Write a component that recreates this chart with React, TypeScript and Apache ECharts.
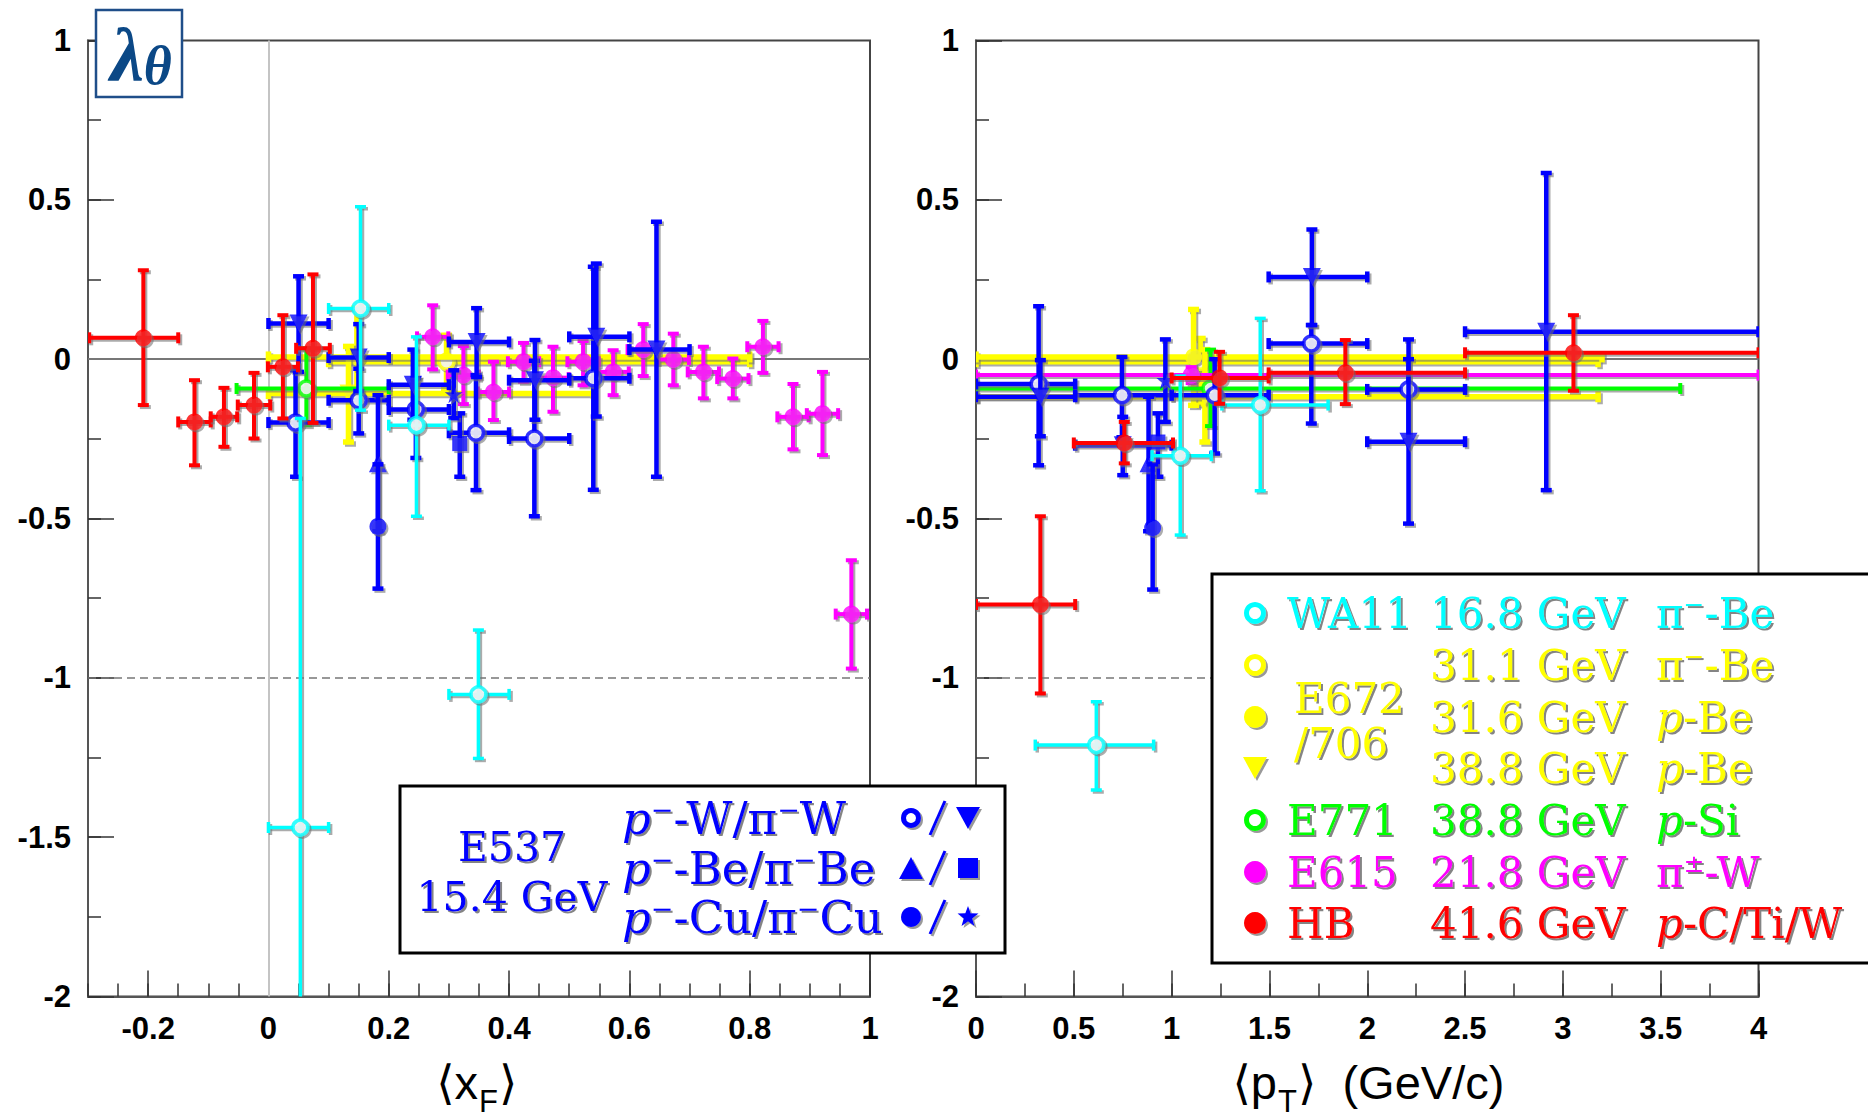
import React, { useEffect, useRef } from "react";
import * as echarts from "echarts";

// ---------- data: each row = [x, y, xLow, xHigh, yLow, yHigh] ----------
// left panel: lambda_theta vs <xF>
const HB_XF = [
  [-0.208, 0.067, -0.298, -0.15, -0.144, 0.279],
  [-0.123, -0.197, -0.15, -0.096, -0.333, -0.066],
  [-0.074, -0.181, -0.096, -0.052, -0.275, -0.09],
  [-0.024, -0.144, -0.051, 0.003, -0.249, -0.043],
  [0.024, -0.024, -0.001, 0.049, -0.186, 0.138],
  [0.074, 0.034, 0.046, 0.102, -0.2, 0.266],
];
const E615_XF = [
  [0.273, 0.07, 0.247, 0.299, -0.032, 0.169],
  [0.324, -0.05, 0.298, 0.35, -0.141, 0.041],
  [0.374, -0.103, 0.348, 0.4, -0.191, -0.008],
  [0.424, -0.008, 0.398, 0.45, -0.071, 0.051],
  [0.473, -0.058, 0.447, 0.499, -0.165, 0.039],
  [0.523, -0.008, 0.497, 0.549, -0.082, 0.057],
  [0.573, -0.04, 0.547, 0.599, -0.113, 0.028],
  [0.623, 0.03, 0.597, 0.649, -0.053, 0.11],
  [0.673, -0.001, 0.647, 0.699, -0.082, 0.08],
  [0.723, -0.04, 0.697, 0.749, -0.123, 0.039],
  [0.772, -0.061, 0.746, 0.798, -0.123, 0.002],
  [0.822, 0.039, 0.796, 0.848, -0.043, 0.12],
  [0.872, -0.181, 0.846, 0.898, -0.283, -0.078],
  [0.921, -0.171, 0.895, 0.947, -0.301, -0.04],
  [0.969, -0.8, 0.943, 0.995, -0.971, -0.631],
];
const E537_W_PBAR_XF = [
  [0.045, -0.199, 0.0, 0.1, -0.369, -0.035],
  [0.15, -0.129, 0.1, 0.2, -0.233, -0.03],
  [0.245, -0.158, 0.2, 0.3, -0.31, -0.06],
  [0.345, -0.231, 0.3, 0.4, -0.411, -0.05],
  [0.442, -0.249, 0.4, 0.5, -0.493, -0.005],
  [0.54, -0.06, 0.5, 0.6, -0.41, 0.29],
];
const E537_W_PI_XF = [
  [0.05, 0.112, 0.0, 0.1, -0.04, 0.26],
  [0.15, 0.005, 0.1, 0.2, -0.1, 0.11],
  [0.24, -0.08, 0.2, 0.3, -0.19, 0.03],
  [0.346, 0.054, 0.3, 0.4, -0.056, 0.16],
  [0.443, -0.066, 0.4, 0.5, -0.19, 0.06],
  [0.545, 0.07, 0.5, 0.6, -0.18, 0.3],
  [0.645, 0.03, 0.6, 0.7, -0.369, 0.431],
];
const E537_BE_PBAR_XF = [[0.182, -0.327, 0.182, 0.182, -0.54, -0.113]];
const E537_BE_PI_XF = [[0.318, -0.265, 0.318, 0.318, -0.369, -0.17]];
const E537_CU_PBAR_XF = [[0.182, -0.525, 0.182, 0.182, -0.72, -0.33]];
const E537_CU_PI_XF = [[0.308, -0.11, 0.308, 0.308, -0.185, -0.035]];
const WA11_XF = [
  [0.053, -1.47, 0.0, 0.1, -2.76, -0.186],
  [0.153, 0.159, 0.1, 0.2, -0.16, 0.478],
  [0.246, -0.207, 0.2, 0.3, -0.493, 0.07],
  [0.349, -1.052, 0.3, 0.4, -1.253, -0.85],
];
const E672_311_XF = [[0.296, -0.008, 0.1, 0.8, -0.092, 0.075]];
const E672_316_XF = [[0.147, 0.007, 0.0, 0.8, -0.143, 0.16]];
const E672_388_XF = [[0.133, -0.108, 0.0, 0.54, -0.26, 0.04]];
const E771_XF = [[0.063, -0.092, -0.053, 0.2, -0.207, 0.034]];

// right panel: lambda_theta vs <pT>
const HB_PT = [
  [0.329, -0.77, 0.0, 0.507, -1.049, -0.493],
  [0.758, -0.263, 0.5, 1.007, -0.327, -0.197],
  [1.245, -0.059, 1.0, 1.496, -0.14, 0.023],
  [1.888, -0.043, 1.496, 2.5, -0.141, 0.06],
  [3.054, 0.02, 2.5, 4.0, -0.099, 0.138],
];
const E615_PT = [[1.1, -0.05, 0.0, 4.0, -0.075, -0.025]];
const E771_PT = [[1.199, -0.092, 0.0, 3.6, -0.21, 0.03]];
const E672_311_PT = [[1.146, -0.008, 0.0, 3.18, -0.14, 0.065]];
const E672_316_PT = [[1.112, 0.007, 0.0, 3.2, -0.145, 0.156]];
const E672_388_PT = [[1.17, -0.118, 0.0, 3.18, -0.26, 0.03]];
const WA11_PT = [
  [0.615, -1.211, 0.303, 0.908, -1.352, -1.075],
  [1.044, -0.303, 0.9, 1.203, -0.552, -0.053],
  [1.453, -0.144, 1.257, 1.8, -0.413, 0.128],
];
const E537_W_PBAR_PT = [
  [0.32, -0.078, 0.0, 0.507, -0.333, 0.166],
  [0.746, -0.113, 0.507, 1.0, -0.245, 0.007],
  [1.22, -0.113, 1.0, 1.496, -0.296, 0.0],
  [1.714, 0.049, 1.496, 2.0, -0.202, 0.107],
  [2.211, -0.095, 2.0, 2.5, -0.255, 0.062],
];
const E537_W_PI_PT = [
  [0.329, -0.118, 0.0, 0.507, -0.242, -0.003],
  [0.75, -0.27, 0.507, 1.0, -0.364, -0.181],
  [1.717, 0.258, 1.496, 2.0, 0.107, 0.407],
  [2.211, -0.259, 2.0, 2.5, -0.516, 0.0],
  [2.915, 0.086, 2.5, 4.0, -0.411, 0.584],
];
const E537_BE_PBAR_PT = [[0.882, -0.327, 0.882, 0.882, -0.54, -0.118]];
const E537_BE_PI_PT = [[0.93, -0.26, 0.93, 0.93, -0.369, -0.17]];
const E537_CU_PBAR_PT = [[0.903, -0.529, 0.903, 0.903, -0.723, -0.33]];
const E537_CU_PI_PT = [[0.968, -0.066, 0.968, 0.968, -0.197, 0.062]];

// ---------- ticks ----------
const XF_MAJOR = [-0.2, 0, 0.2, 0.4, 0.6, 0.8, 1];
const XF_RANGE = [-0.3, 1];
const PT_RANGE = [0, 4];
const Y_RANGE = [-2, 1];

// ---------- legend texts ----------
const LEG_NAMES = ["WA11", "", "", "", "E771", "E615", "HB"];
const LEG_ENERGY = ["16.8 GeV", "31.1 GeV", "31.6 GeV", "38.8 GeV", "38.8 GeV", "21.8 GeV", "41.6 GeV"];
const LEG_REACTION = [
  "{n|π}{u|−}{n|-Be}",
  "{n|π}{u|−}{n|-Be}",
  "{i|p}{n|-Be}",
  "{i|p}{n|-Be}",
  "{i|p}{n|-Si}",
  "{n|π}{u|±}{n|-W}",
  "{i|p}{n|-C/Ti/W}",
];
const E537_LINES = [
  "{i|p}{u|−}{n|-W/π}{u|−}{n|W}",
  "{i|p}{u|−}{n|-Be/π}{u|−}{n|Be}",
  "{i|p}{u|−}{n|-Cu/π}{u|−}{n|Cu}",
];

// ---------- styles ----------
const BLUE = "#0000ff";
const CYAN = "#00ffff";
const YELLOW = "#ffff00";
const GREEN = "#00ff00";
const MAGENTA = "#ff00ff";
const RED = "#ff0000";
const SHADOW_FILL = "rgba(115,115,115,0.6)";
const SH = { shadowColor: "rgba(110,110,110,0.7)", shadowOffsetX: 2, shadowOffsetY: 2, shadowBlur: 0.5 };
const TSH = { textShadowColor: "rgba(110,110,110,0.85)", textShadowOffsetX: 2, textShadowOffsetY: 2, textShadowBlur: 0.6 };
const SERIF = "'DejaVu Serif', 'Liberation Serif', serif";
const SANS = "'Liberation Sans', 'DejaVu Sans', Arial, sans-serif";
const STAR = "path://M50,0 L61,35 L98,35 L68,57 L79,91 L50,70 L21,91 L32,57 L2,35 L39,35 Z";

let zc = 5;

function bars(data: number[][], color: string, lw: number, xi: number, yi: number) {
  return {
    type: "custom",
    xAxisIndex: xi,
    yAxisIndex: yi,
    clip: true,
    silent: true,
    z: zc++,
    data,
    encode: { x: 0, y: 1 },
    renderItem: (_p: any, api: any) => {
      const x = api.value(0), y = api.value(1);
      const xl = api.value(2), xh = api.value(3), yl = api.value(4), yh = api.value(5);
      const c = api.coord([x, y]);
      const L = api.coord([xl, y]);
      const R = api.coord([xh, y]);
      const B = api.coord([x, yl]);
      const T = api.coord([x, yh]);
      const cap = 5.5;
      const shadows: any[] = [];
      const mains: any[] = [];
      const box = (x0: number, y0: number, w: number, h: number) => {
        shadows.push({ type: "rect", shape: { x: x0 + 2, y: y0 + 2, width: w, height: h }, style: { fill: SHADOW_FILL } });
        mains.push({ type: "rect", shape: { x: x0, y: y0, width: w, height: h }, style: { fill: color } });
      };
      const hseg = (xa: number, xb: number, yy: number) => box(Math.min(xa, xb), yy - lw / 2, Math.abs(xb - xa), lw);
      const vseg = (xx: number, ya: number, yb: number) => box(xx - lw / 2, Math.min(ya, yb), lw, Math.abs(yb - ya));
      if (xh > xl) {
        hseg(L[0], R[0], c[1]);
        vseg(L[0], c[1] - cap, c[1] + cap);
        vseg(R[0], c[1] - cap, c[1] + cap);
      }
      if (yh > yl) {
        vseg(c[0], B[1], T[1]);
        hseg(c[0] - cap, c[0] + cap, B[1]);
        hseg(c[0] - cap, c[0] + cap, T[1]);
      }
      return { type: "group", children: [...shadows, ...mains] };
    },
  };
}

function marks(data: number[][], color: string, kind: string, xi: number, yi: number) {
  let symbol = "circle", size = 17, rotate = 0;
  let itemStyle: any = { color, ...SH };
  if (kind === "open") {
    size = 15;
    itemStyle = { color: "#ffffff", borderColor: color, borderWidth: 3.5, ...SH };
  } else if (kind === "down") {
    symbol = "triangle"; size = 18; rotate = 180;
  } else if (kind === "up") {
    symbol = "triangle"; size = 18;
  } else if (kind === "square") {
    symbol = "rect"; size = 15;
  } else if (kind === "star") {
    symbol = STAR; size = 18;
  }
  return {
    type: "scatter",
    xAxisIndex: xi,
    yAxisIndex: yi,
    silent: true,
    z: zc++,
    symbol,
    symbolSize: size,
    symbolRotate: rotate,
    itemStyle,
    data: data.map((r) => [r[0], r[1]]),
  };
}

function group(data: number[][], color: string, lw: number, kind: string, xi: number, yi: number) {
  return [bars(data, color, lw, xi, yi), marks(data, color, kind, xi, yi)];
}

function panelSeries(xi: number, yi: number, d: any) {
  return [
    ...group(d.e672a, YELLOW, 5.5, "open", xi, yi),
    ...group(d.e672b, YELLOW, 5.5, "filled", xi, yi),
    ...group(d.e672c, YELLOW, 5.5, "down", xi, yi),
    ...group(d.e771, GREEN, 4, "open", xi, yi),
    ...group(d.e615, MAGENTA, 4, "filled", xi, yi),
    ...group(d.wp, BLUE, 4.5, "open", xi, yi),
    ...group(d.wpi, BLUE, 4.5, "down", xi, yi),
    ...group(d.bep, BLUE, 4.5, "up", xi, yi),
    ...group(d.bepi, BLUE, 4.5, "square", xi, yi),
    ...group(d.cup, BLUE, 4.5, "filled", xi, yi),
    ...group(d.cupi, BLUE, 4.5, "star", xi, yi),
    ...group(d.wa11, CYAN, 3.5, "open", xi, yi),
    ...group(d.hb, RED, 4, "filled", xi, yi),
  ];
}

const LABEL = { color: "#000", fontFamily: SANS, fontWeight: "bold", fontSize: 31 };
const TICKSTYLE = { color: "#333", width: 1.5 };

function majorX(gi: number, range: number[], extra: any) {
  return {
    type: "value", gridIndex: gi, min: range[0], max: range[1], position: "bottom",
    axisLine: { show: true, onZero: false, lineStyle: { color: "#555", width: 2 } },
    axisTick: { show: true, inside: true, length: 26, lineStyle: TICKSTYLE, ...(extra.tick || {}) },
    axisLabel: { show: true, margin: 16, ...LABEL, ...(extra.label || {}) },
    splitLine: { show: false },
    ...(extra.axis || {}),
  };
}
function minorX(gi: number, range: number[], interval: number) {
  return {
    type: "value", gridIndex: gi, min: range[0], max: range[1], interval, position: "bottom",
    axisLine: { show: false, onZero: false },
    axisTick: { show: true, inside: true, length: 13, lineStyle: TICKSTYLE },
    axisLabel: { show: false },
    splitLine: { show: false },
  };
}
function majorY(gi: number) {
  return {
    type: "value", gridIndex: gi, min: Y_RANGE[0], max: Y_RANGE[1], interval: 0.5, position: "left",
    axisLine: { show: true, onZero: false, lineStyle: { color: "#555", width: 2 } },
    axisTick: { show: true, inside: true, length: 26, lineStyle: TICKSTYLE },
    axisLabel: { show: true, margin: 17, ...LABEL },
    splitLine: { show: false },
  };
}
function minorY(gi: number) {
  return {
    type: "value", gridIndex: gi, min: Y_RANGE[0], max: Y_RANGE[1], interval: 0.25, position: "left",
    axisLine: { show: false, onZero: false },
    axisTick: { show: true, inside: true, length: 13, lineStyle: TICKSTYLE },
    axisLabel: { show: false },
    splitLine: { show: false },
  };
}

function refLines(xi: number, yi: number, withX0: boolean) {
  const data: any[] = [
    { yAxis: 0, lineStyle: { color: "#777", width: 2, type: "solid" } },
    { yAxis: -1, lineStyle: { color: "#777", width: 1.5, type: [8, 5] } },
  ];
  if (withX0) data.push({ xAxis: 0, lineStyle: { color: "#c4c4c4", width: 2, type: "solid" } });
  return {
    type: "line", xAxisIndex: xi, yAxisIndex: yi, data: [], z: 1, silent: true,
    markLine: { silent: true, symbol: ["none", "none"], label: { show: false }, data },
  };
}

function rich(color: string, size: number) {
  const base = { fill: color, fontSize: size, fontFamily: SERIF, lineHeight: size, ...TSH };
  const us = Math.round(size * 0.6);
  return {
    n: { ...base },
    i: { ...base, fontStyle: "italic" },
    u: { ...base, fontSize: us, lineHeight: us, verticalAlign: "top" },
  };
}

function txt(x: number, y: number, text: string, color: string, size: number, align = "left") {
  return {
    type: "text", x, y, z: 101, silent: true,
    style: {
      text, fill: color, fontSize: size, fontFamily: SERIF, lineHeight: size, ...TSH,
      align, verticalAlign: "middle", textAlign: align, textVerticalAlign: "middle",
      rich: rich(color, size),
    },
  };
}

function plain(x: number, y: number, text: string, size: number, align: string) {
  return {
    type: "text", x, y, z: 101, silent: true,
    style: {
      text, fill: "#000", fontSize: size, fontFamily: SANS, lineHeight: size,
      align, verticalAlign: "middle", textAlign: align, textVerticalAlign: "middle",
    },
  };
}

function legMarker(kind: string, cx: number, cy: number, color: string, r = 11) {
  if (kind === "open")
    return { type: "circle", z: 101, silent: true, shape: { cx, cy, r: r - 2.5 }, style: { fill: "#fff", stroke: color, lineWidth: 5, ...SH } };
  if (kind === "filled")
    return { type: "circle", z: 101, silent: true, shape: { cx, cy, r }, style: { fill: color, ...SH } };
  if (kind === "down")
    return { type: "polygon", z: 101, silent: true, shape: { points: [[cx - 12, cy - 11], [cx + 12, cy - 11], [cx, cy + 11]] }, style: { fill: color, ...SH } };
  if (kind === "up")
    return { type: "polygon", z: 101, silent: true, shape: { points: [[cx - 12, cy + 11], [cx + 12, cy + 11], [cx, cy - 11]] }, style: { fill: color, ...SH } };
  if (kind === "square")
    return { type: "rect", z: 101, silent: true, shape: { x: cx - 10, y: cy - 10, width: 20, height: 20 }, style: { fill: color, ...SH } };
  const pts: number[][] = [];
  for (let k = 0; k < 10; k++) {
    const a = -Math.PI / 2 + (k * Math.PI) / 5;
    const rr = k % 2 === 0 ? 11 : 4.5;
    pts.push([cx + rr * Math.cos(a), cy + rr * Math.sin(a)]);
  }
  return { type: "polygon", z: 101, silent: true, shape: { points: pts }, style: { fill: color, ...SH } };
}

function buildOption() {
  zc = 5;
  const left = panelSeries(0, 0, {
    e672a: E672_311_XF, e672b: E672_316_XF, e672c: E672_388_XF, e771: E771_XF, e615: E615_XF,
    wp: E537_W_PBAR_XF, wpi: E537_W_PI_XF, bep: E537_BE_PBAR_XF, bepi: E537_BE_PI_XF,
    cup: E537_CU_PBAR_XF, cupi: E537_CU_PI_XF, wa11: WA11_XF, hb: HB_XF,
  });
  const right = panelSeries(2, 2, {
    e672a: E672_311_PT, e672b: E672_316_PT, e672c: E672_388_PT, e771: E771_PT, e615: E615_PT,
    wp: E537_W_PBAR_PT, wpi: E537_W_PI_PT, bep: E537_BE_PBAR_PT, bepi: E537_BE_PI_PT,
    cup: E537_CU_PBAR_PT, cupi: E537_CU_PI_PT, wa11: WA11_PT, hb: HB_PT,
  });

  const legColors = [CYAN, YELLOW, YELLOW, YELLOW, GREEN, MAGENTA, RED];
  const legKinds = ["open", "open", "filled", "down", "open", "filled", "filled"];
  const rowY = [613, 665, 717, 768, 820, 872, 923];
  const graphics: any[] = [];

  // lambda_theta label
  graphics.push({ type: "rect", z: 100, silent: true, shape: { x: 96, y: 10, width: 86, height: 87 }, style: { fill: "#fff", stroke: "#1f4e89", lineWidth: 2.5 } });
  graphics.push({
    type: "text", z: 101, silent: true, x: 141, y: 55,
    style: {
      text: "{l|λ}{t|θ}", align: "center", verticalAlign: "middle", textAlign: "center", textVerticalAlign: "middle",
      rich: {
        l: { fill: "#0b4886", fontSize: 76, fontFamily: "'Liberation Serif', serif", fontWeight: "bold", fontStyle: "italic", lineHeight: 76, verticalAlign: "top" },
        t: { fill: "#0b4886", fontSize: 54, fontFamily: "'Liberation Serif', serif", fontWeight: "bold", fontStyle: "italic", lineHeight: 50, verticalAlign: "bottom" },
      },
    },
  });

  // E537 legend box
  graphics.push({ type: "rect", z: 100, silent: true, shape: { x: 400, y: 786, width: 605, height: 167 }, style: { fill: "#fff", stroke: "#000", lineWidth: 3 } });
  graphics.push(txt(512, 847, "E537", BLUE, 41, "center"));
  graphics.push(txt(512, 897, "15.4 GeV", BLUE, 41, "center"));
  const e537Y = [818, 868, 917];
  E537_LINES.forEach((s, k) => graphics.push(txt(622, e537Y[k], s, BLUE, 45, "left")));
  const e537Marks = [["open", "down"], ["up", "square"], ["filled", "star"]];
  e537Marks.forEach((pair, k) => {
    const yy = e537Y[k];
    graphics.push(legMarker(pair[0], 911, yy, BLUE, 10));
    graphics.push({
      type: "line", z: 101, silent: true,
      shape: { x1: 930, y1: yy + 17, x2: 945, y2: yy - 17 },
      style: { stroke: BLUE, lineWidth: 3, ...SH },
    });
    graphics.push(legMarker(pair[1], 968, yy, BLUE, 10));
  });

  // right legend box
  graphics.push({ type: "rect", z: 100, silent: true, shape: { x: 1212, y: 574, width: 670, height: 389 }, style: { fill: "#fff", stroke: "#000", lineWidth: 3 } });
  rowY.forEach((y, k) => {
    graphics.push(legMarker(legKinds[k], 1255, y, legColors[k], 11));
    if (LEG_NAMES[k]) graphics.push(txt(1287, y, LEG_NAMES[k], legColors[k], 42, "left"));
    graphics.push(txt(1430, y, LEG_ENERGY[k], legColors[k], 42, "left"));
    graphics.push(txt(1656, y, LEG_REACTION[k], legColors[k], 42, "left"));
  });
  graphics.push(txt(1294, 698, "E672", YELLOW, 42, "left"));
  graphics.push(txt(1294, 743, "/706", YELLOW, 42, "left"));

  // axis titles: main part, lowered subscript, closing bracket
  graphics.push(plain(478, 1082, "⟨x", 47, "right"));
  graphics.push(plain(479, 1101, "F", 31, "left"));
  graphics.push(plain(499, 1082, "⟩", 47, "left"));
  graphics.push(plain(1277, 1082, "⟨p", 47, "right"));
  graphics.push(plain(1278, 1101, "T", 31, "left"));
  graphics.push(plain(1298, 1082, "⟩  (GeV/c)", 47, "left"));

  return {
    animation: false,
    backgroundColor: "#fff",
    grid: [
      { left: 88, top: 40.5, width: 782, height: 956, show: true, borderColor: "#444", borderWidth: 2, containLabel: false, outerBoundsMode: "none" },
      { left: 976, top: 40.5, width: 782.5, height: 956, show: true, borderColor: "#444", borderWidth: 2, containLabel: false, outerBoundsMode: "none" },
    ],
    xAxis: [
      majorX(0, XF_RANGE, { tick: { customValues: XF_MAJOR }, label: { customValues: XF_MAJOR } }),
      minorX(0, XF_RANGE, 0.05),
      majorX(1, PT_RANGE, { axis: { interval: 0.5 } }),
      minorX(1, PT_RANGE, 0.25),
    ],
    yAxis: [majorY(0), minorY(0), majorY(1), minorY(1)],
    series: [refLines(0, 0, true), refLines(2, 2, false), ...left, ...right],
    graphic: { elements: graphics },
  };
}

export default function App() {
  const ref = useRef<HTMLDivElement>(null);
  useEffect(() => {
    const chart = echarts.init(ref.current as HTMLDivElement, null, { renderer: "svg" });
    chart.setOption(buildOption() as any);
    return () => chart.dispose();
  }, []);
  return (
    <div
      ref={ref}
      style={{ position: "fixed", left: 0, top: 0, width: 1868, height: 1117, background: "#fff" }}
    />
  );
}
